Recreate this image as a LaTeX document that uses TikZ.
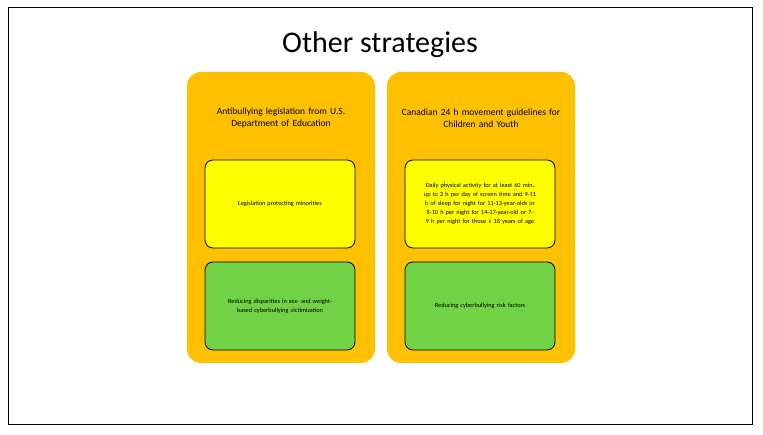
\documentclass[tikz,border=0pt]{standalone}
\usepackage{fontspec}
\setmainfont{Carlito}
\begin{document}
\begin{tikzpicture}[x=1pt,y=-1pt,
 col/.style={draw=none,fill=orange!20!yellow!60!orange,fill={rgb,255:red,255;green,192;blue,0},rounded corners=14pt,minimum width=188pt,minimum height=291pt},
 hdr/.style={text width=180pt,align=center,font=\fontsize{9.5}{11.5}\selectfont},
 inner/.style={draw=black,line width=0.8pt,rounded corners=8pt,minimum width=150pt,minimum height=88pt,text width=140pt,align=center,font=\fontsize{6.3}{9}\selectfont}]
\useasboundingbox (0,0) rectangle (763,435);
\node[draw=black,line width=1pt,minimum width=744pt,minimum height=416pt,inner sep=0] (frame) at (380,216) {};
\node[font=\fontsize{30}{34}\selectfont] (title) at (380,45) {Other strategies};
\node[col] (L) at (281,217.5) {};
\node[col] (R) at (481,217.5) {};
\node[hdr] (Lh) at (281,118) {Antibullying legislation from U.S.\\Department of Education};
\node[hdr] (Rh) at (481,118) {Canadian 24 h movement guidelines for\\Children and Youth};
\node[inner,fill={rgb,255:red,255;green,255;blue,0}] (L1) at (280,204) {Legislation protecting minorities};
\node[inner,fill={rgb,255:red,112;green,210;blue,68}] (L2) at (280,306) {Reducing disparities in sex- and weight-based cyberbullying victimization};
\node[inner,fill={rgb,255:red,255;green,255;blue,0}] (R1) at (480,204) {Daily physical activity for at least 60 min, up to 2 h per day of screen time and 9-11 h of sleep for night for 11-13-year-olds or 8-10 h per night for 14-17-year-old or 7-9 h per night for those ≥ 18 years of age};
\node[inner,fill={rgb,255:red,112;green,210;blue,68}] (R2) at (480,306) {Reducing cyberbullying risk factors};
\end{tikzpicture}
\end{document}
